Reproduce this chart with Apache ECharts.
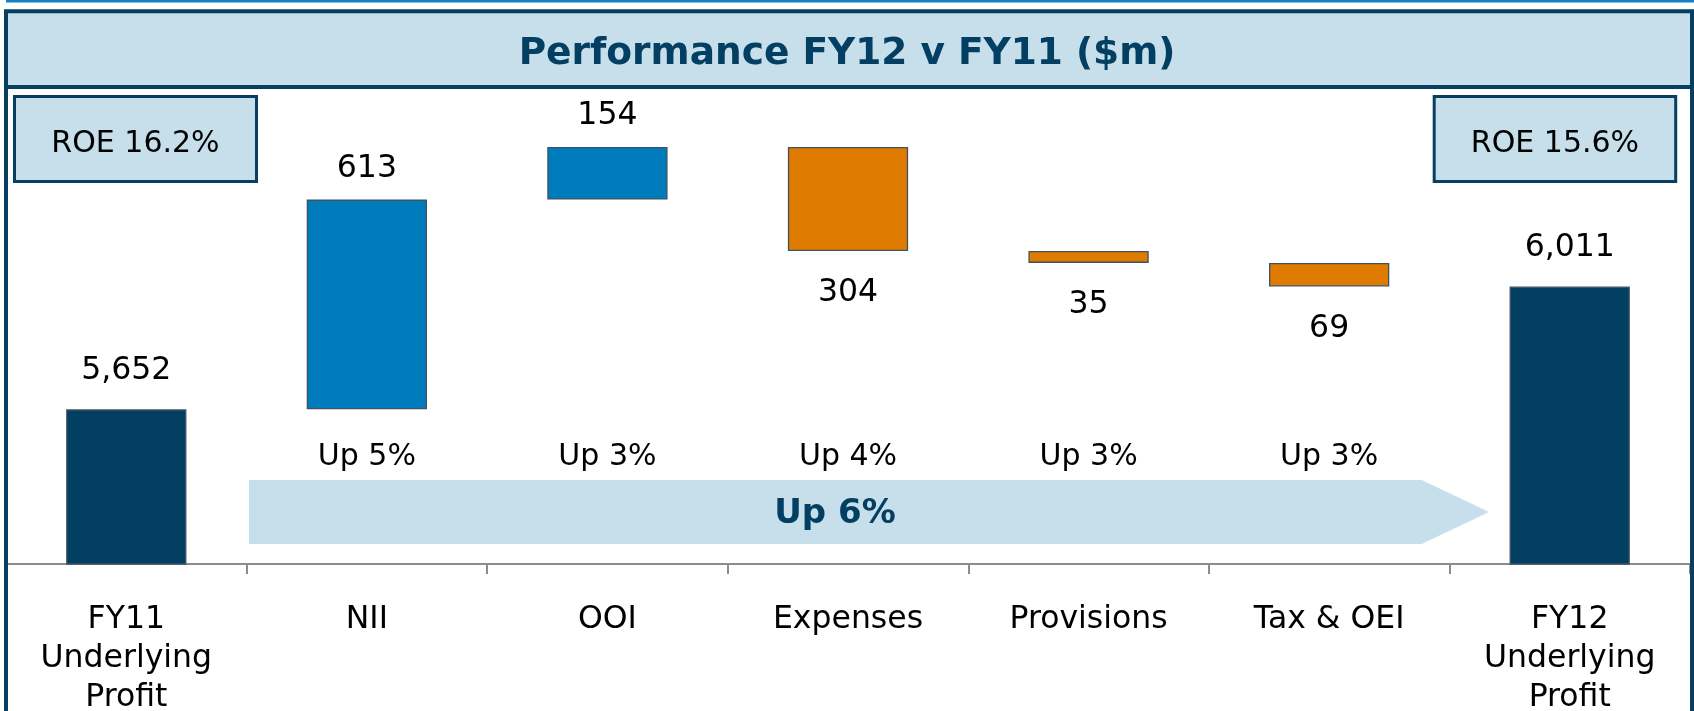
<!DOCTYPE html>
<html>
<head>
<meta charset="utf-8">
<script src="https://cdn.jsdelivr.net/npm/echarts@6/dist/echarts.min.js"></script>
<style>
html,body{margin:0;padding:0;background:#fff;}
#chart{width:1694px;height:711px;}
</style>
</head>
<body>
<div id="chart"></div>
<script>
// ---- data ----
const categories = ['FY11\nUnderlying\nProfit', 'NII', 'OOI', 'Expenses', 'Provisions', 'Tax & OEI', 'FY12\nUnderlying\nProfit'];
const startTotal = 5652;
const deltas = [613, 154, -304, -35, -69];
const endTotal = 6011;
const upLabels = ['', 'Up 5%', 'Up 3%', 'Up 4%', 'Up 3%', 'Up 3%', ''];
const roeLeft = 'ROE 16.2%';
const roeRight = 'ROE 15.6%';
const overallChange = 'Up 6%';
const titleText = 'Performance FY12 v FY11 ($m)';

// ---- derived waterfall ----
const NAVY = '#033f63', BLUE = '#007cbc', ORANGE = '#de7b00', LIGHT = '#c6dfea';
const baseData = [], valData = [];
baseData.push(0);
valData.push({ value: startTotal, kind: 'total' });
let running = startTotal;
deltas.forEach(d => {
  const next = running + d;
  baseData.push(Math.min(running, next));
  valData.push({ value: Math.abs(d), kind: d >= 0 ? 'up' : 'down' });
  running = next;
});
baseData.push(0);
valData.push({ value: endTotal, kind: 'total' });

const FONT = 'DejaVu Sans';
const fmt = v => v.toLocaleString('en-US');

const valSeriesData = valData.map(d => {
  const color = d.kind === 'total' ? NAVY : (d.kind === 'up' ? BLUE : ORANGE);
  return {
    value: d.value,
    itemStyle: { color: color },
    label: {
      show: true,
      position: d.kind === 'down' ? 'bottom' : 'top',
      distance: d.kind === 'total' ? 23 : (d.kind === 'up' ? 15 : 26),
      formatter: () => fmt(d.value)
    }
  };
});

const chart = echarts.init(document.getElementById('chart'));
const yMin = 5200, yMax = 6600;

chart.setOption({
  animation: false,
  backgroundColor: '#ffffff',
  title: {
    text: titleText,
    left: 'center',
    top: 35,
    padding: [0, 0, 0, 10],
    z: 20,
    textStyle: { fontFamily: FONT, fontSize: 37.5, fontWeight: 'bold', color: NAVY }
  },
  grid: { left: 6, right: 4, top: 85, bottom: 147, containLabel: false, outerBoundsMode: 'none' },
  xAxis: {
    type: 'category',
    data: categories,
    axisLine: { show: true, lineStyle: { color: '#8c8c8c', width: 2 } },
    axisTick: { show: true, length: 10, lineStyle: { color: '#8c8c8c', width: 2 } },
    axisLabel: { fontFamily: FONT, fontSize: 31.5, color: '#000', lineHeight: 39, margin: 36, interval: 0 }
  },
  yAxis: {
    type: 'value', min: yMin, max: yMax, show: false,
    splitLine: { show: false }
  },
  series: [
    {
      type: 'bar', stack: 'wf', data: baseData, barWidth: '50%',
      itemStyle: { color: 'transparent' }, silent: true
    },
    {
      type: 'bar', stack: 'wf', data: valSeriesData, barWidth: '50%',
      itemStyle: { borderColor: '#3f5363', borderWidth: 1.3 },
      label: { fontFamily: FONT, fontSize: 31.5, color: '#000' }
    },
    {
      type: 'custom',
      data: upLabels.map((t, i) => [i, t]),
      renderItem: function (params, api) {
        const idx = api.value(0);
        const txt = upLabels[idx];
        const p = api.coord([idx, yMin]);
        return {
          type: 'text',
          style: {
            x: p[0], y: p[1] - 107,
            text: txt,
            align: 'center', verticalAlign: 'middle',
            font: '30px "DejaVu Sans"', fill: '#000'
          }
        };
      },
      z: 5
    }
  ],
  graphic: [
    // top thin line
    { type: 'rect', z: 50, shape: { x: 6, y: 0, width: 1688, height: 2.5 }, style: { fill: '#1580c3' } },
    // title band
    { type: 'rect', z: -10, shape: { x: 6, y: 11, width: 1686, height: 76 }, style: { fill: LIGHT } },
    { type: 'line', z: 50, shape: { x1: 6, y1: 87, x2: 1692, y2: 87 }, style: { stroke: '#073f62', lineWidth: 4 } },
    // outer frame
    { type: 'rect', z: 50, shape: { x: 6, y: 11.3, width: 1686, height: 760 }, style: { fill: null, stroke: '#073f62', lineWidth: 4 } },
    // ROE boxes
    { type: 'rect', z: 40, shape: { x: 14.5, y: 96.5, width: 242, height: 85 }, style: { fill: LIGHT, stroke: '#073f62', lineWidth: 3 } },
    { type: 'text', z: 41, style: { x: 135.5, y: 144, text: roeLeft, align: 'center', verticalAlign: 'middle', font: '30px "DejaVu Sans"', fill: '#000' } },
    { type: 'rect', z: 40, shape: { x: 1434.2, y: 96.5, width: 241.5, height: 85 }, style: { fill: LIGHT, stroke: '#073f62', lineWidth: 3 } },
    { type: 'text', z: 41, style: { x: 1555, y: 144, text: roeRight, align: 'center', verticalAlign: 'middle', font: '30px "DejaVu Sans"', fill: '#000' } },
    // overall arrow
    { type: 'polygon', z: -5, shape: { points: [[249, 480], [1421.7, 480], [1489, 512], [1421.7, 544], [249, 544]] }, style: { fill: LIGHT } },
    { type: 'text', z: 41, style: { x: 835, y: 514, text: overallChange, align: 'center', verticalAlign: 'middle', font: 'bold 34px "DejaVu Sans"', fill: NAVY } }
  ]
});
</script>
</body>
</html>
